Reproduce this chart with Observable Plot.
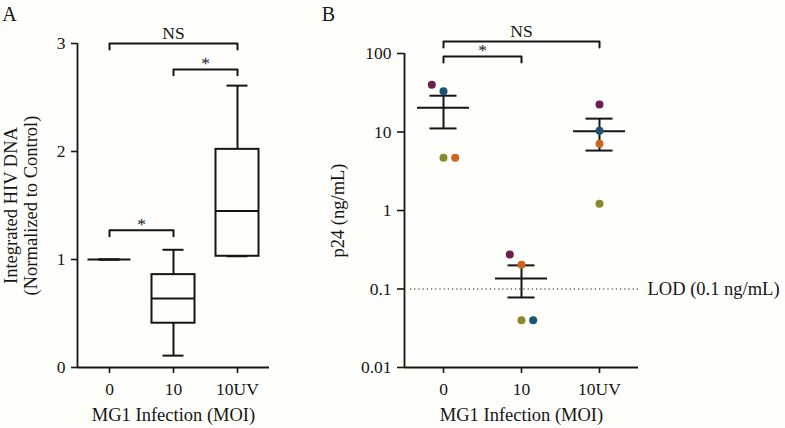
<!DOCTYPE html>
<html><head><meta charset="utf-8">
<script src="https://cdn.jsdelivr.net/npm/d3@7"></script>
<script src="https://cdn.jsdelivr.net/npm/@observablehq/plot@0.6"></script>
<style>
html,body{margin:0;padding:0;background:#fefefa;}
#fig{position:relative;width:785px;height:428px;overflow:hidden;background:#fefefa;}
#a{position:absolute;left:0;top:0;}
#b{position:absolute;left:310px;top:0;}
#fig svg{font-family:"Liberation Serif","DejaVu Serif",serif;background:transparent !important;overflow:visible;}
</style></head><body>
<div id="fig"><div id="a"></div><div id="b"></div></div>
<script>
// ---------- data ----------
const categories = ["0", "10", "10UV"];
const xLabel = "MG1 Infection (MOI)";

// Panel A: box plots of integrated HIV DNA (normalized to control)
const whiskerLow  = [1.00, 0.11, 1.03];
const boxQ1       = [1.00, 0.41, 1.03];
const boxMedian   = [1.00, 0.64, 1.45];
const boxQ3       = [1.00, 0.86, 2.02];
const whiskerHigh = [1.00, 1.09, 2.61];
const yTicksA = [0, 1, 2, 3];
const yLabelA = "Integrated HIV DNA\n(Normalized to Control)";
const bracketsA = [
  {from: "0",  to: "10UV", y: 3.00, label: "NS"},
  {from: "10", to: "10UV", y: 2.76, label: "*"},
  {from: "0",  to: "10",   y: 1.27, label: "*"}
];

// Panel B: p24 per donor, mean ± SEM
const donors = ["donor1", "donor2", "donor3", "donor4"];
const donorColors = ["#6b1f4e", "#1b5470", "#8b8a2b", "#cf6320"];
const p24Donor1 = [40, 0.275, 22.4];
const p24Donor2 = [33, 0.040, 10.4];
const p24Donor3 = [4.7, 0.040, 1.22];
const p24Donor4 = [4.7, 0.204, 7.1];
// beeswarm slot of each dot (-1 left, 0 centre, 1 right)
const slotDonor1 = [-1, -1, 0];
const slotDonor2 = [0, 1, 0];
const slotDonor3 = [0, 0, 0];
const slotDonor4 = [1, 0, 0];
const meanB = [20.4, 0.136, 10.2];
const semHighB = [29.0, 0.200, 14.8];
const semLowB = [11.1, 0.078, 5.8];
const yTicksB = [0.01, 0.1, 1, 10, 100];
const yLabelB = "p24 (ng/mL)";
const lodValue = 0.1;
const lodLabel = "LOD (0.1 ng/mL)";
const bracketsB = [
  {from: "0", to: "10UV", y: 142, label: "NS"},
  {from: "0", to: "10",   y: 91.6, label: "*"}
];

// ---------- build ----------
const FONT = '"Liberation Serif", "DejaVu Serif", serif';
const FS_TICK = 17.5;
const FS_TITLE = 18.5;
const INK = "#151515";
const style = `font-family: ${FONT}; font-size: ${FS_TICK}px; background: transparent; color: ${INK}; overflow: visible;`;

const boxes = categories.map((c, i) => ({i, c, lo: whiskerLow[i], q1: boxQ1[i], med: boxMedian[i], q3: boxQ3[i], hi: whiskerHigh[i]}));
function bracketPath(list, drop) {
  return list.flatMap((b, k) => {
    const i1 = categories.indexOf(b.from), i2 = categories.indexOf(b.to);
    return [{k, x: i1, y: drop(b.y)}, {k, x: i1, y: b.y}, {k, x: i2, y: b.y}, {k, x: i2, y: drop(b.y)}];
  });
}
const bracketText = list => list.map(b => ({x: (categories.indexOf(b.from) + categories.indexOf(b.to)) / 2, y: b.y, label: b.label}));
const tickText = {fontFamily: FONT, fontSize: FS_TICK, fill: INK};
const titleText = {fontFamily: FONT, fontSize: FS_TITLE, fill: INK};

const plotA = Plot.plot({
  width: 310, height: 428,
  marginLeft: 77, marginRight: 41, marginTop: 43, marginBottom: 61,
  style,
  x: {type: "linear", domain: [-0.5, 2.5]},
  y: {type: "linear", domain: [0, 3]},
  marks: [
    Plot.axisX({ticks: [0, 1, 2], tickFormat: i => categories[i], tickSize: 6, tickPadding: 9, strokeWidth: 1.6, label: null, ...tickText}),
    Plot.axisY({ticks: yTicksA, tickFormat: d => String(d), tickSize: 6, tickPadding: 6, strokeWidth: 1.6, label: null, ...tickText}),
    Plot.ruleY([0], {strokeWidth: 1.8, stroke: INK}),
    Plot.ruleX([-0.5], {strokeWidth: 1.8, stroke: INK}),
    // whiskers
    Plot.ruleX(boxes, {x: "i", y1: "hi", y2: "q3", strokeWidth: 2, stroke: INK}),
    Plot.ruleX(boxes, {x: "i", y1: "lo", y2: "q1", strokeWidth: 2, stroke: INK}),
    Plot.ruleY(boxes, {y: "hi", x1: d => d.i - 0.5, x2: d => d.i + 0.5, insetLeft: 21.5, insetRight: 21.5, strokeWidth: 2, stroke: INK}),
    Plot.ruleY(boxes, {y: "lo", x1: d => d.i - 0.5, x2: d => d.i + 0.5, insetLeft: 21.5, insetRight: 21.5, strokeWidth: 2, stroke: INK}),
    // boxes
    Plot.rect(boxes, {x1: d => d.i - 0.5, x2: d => d.i + 0.5, y1: "q1", y2: "q3", insetLeft: 10.5, insetRight: 10.5, fill: "none", stroke: INK, strokeWidth: 2}),
    Plot.ruleY(boxes, {y: "med", x1: d => d.i - 0.5, x2: d => d.i + 0.5, insetLeft: 10.5, insetRight: 10.5, strokeWidth: 2, stroke: INK}),
    // significance brackets
    Plot.line(bracketPath(bracketsA, y => y - 0.055), {x: "x", y: "y", z: "k", stroke: INK, strokeWidth: 2}),
    Plot.text(bracketText(bracketsA), {x: "x", y: "y", text: "label", lineAnchor: "bottom", ...tickText}),
    // axis titles
    Plot.text([yLabelA], {frameAnchor: "left", textAnchor: "middle", lineAnchor: "middle", rotate: -90, dx: -57, lineHeight: 1.08, ...titleText}),
    Plot.text([xLabel], {frameAnchor: "bottom", textAnchor: "middle", lineAnchor: "middle", dy: 48, ...titleText}),
    Plot.text(["A"], {frameAnchor: "top-left", textAnchor: "middle", lineAnchor: "middle", dx: -68, dy: -29, ...titleText, fontSize: 20})
  ]
});

const points = [p24Donor1, p24Donor2, p24Donor3, p24Donor4].flatMap((vals, k) => {
  const slots = [slotDonor1, slotDonor2, slotDonor3, slotDonor4][k];
  return categories.map((c, i) => ({donor: donors[k], i, slot: slots[i], v: vals[i]}));
});
const statsB = categories.map((c, i) => ({i, mean: meanB[i], hi: semHighB[i], lo: semLowB[i]}));

const plotB = Plot.plot({
  width: 475, height: 428,
  marginLeft: 94, marginRight: 147, marginTop: 53, marginBottom: 61,
  style,
  x: {type: "linear", domain: [-0.5, 2.5]},
  y: {type: "log", domain: [0.01, 100]},
  color: {domain: donors, range: donorColors},
  marks: [
    Plot.axisX({ticks: [0, 1, 2], tickFormat: i => categories[i], tickSize: 6, tickPadding: 9, strokeWidth: 1.6, label: null, ...tickText}),
    Plot.axisY({ticks: yTicksB, tickFormat: d => String(d), tickSize: 7, tickPadding: 6, strokeWidth: 1.6, label: null, ...tickText}),
    Plot.ruleY([0.01], {strokeWidth: 1.8, stroke: INK}),
    Plot.ruleX([-0.5], {strokeWidth: 1.8, stroke: INK}),
    // LOD
    Plot.ruleY([lodValue], {insetLeft: 6, stroke: INK, strokeWidth: 1.2, strokeDasharray: "1.2,3"}),
    Plot.text([lodLabel], {y: () => lodValue, frameAnchor: "right", textAnchor: "start", lineAnchor: "middle", dx: 9, ...titleText}),
    // mean ± SEM
    Plot.ruleX(statsB, {x: "i", y1: "lo", y2: "hi", strokeWidth: 2, stroke: INK}),
    Plot.ruleY(statsB, {y: "mean", x1: d => d.i - 0.5, x2: d => d.i + 0.5, insetLeft: 13, insetRight: 13, strokeWidth: 2, stroke: INK}),
    Plot.ruleY(statsB, {y: "hi", x1: d => d.i - 0.5, x2: d => d.i + 0.5, insetLeft: 25.5, insetRight: 25.5, strokeWidth: 2, stroke: INK}),
    Plot.ruleY(statsB, {y: "lo", x1: d => d.i - 0.5, x2: d => d.i + 0.5, insetLeft: 25.5, insetRight: 25.5, strokeWidth: 2, stroke: INK}),
    // donor dots
    Plot.dot(points, {x: d => d.i + d.slot * 0.15, y: "v", fill: "donor", r: 4}),
    // brackets
    Plot.line(bracketPath(bracketsB, y => y / Math.pow(10, 0.075)), {x: "x", y: "y", z: "k", stroke: INK, strokeWidth: 2}),
    Plot.text(bracketText(bracketsB), {x: "x", y: "y", text: "label", lineAnchor: "bottom", ...tickText}),
    // titles
    Plot.text([yLabelB], {frameAnchor: "left", textAnchor: "middle", lineAnchor: "middle", rotate: -90, dx: -66, ...titleText}),
    Plot.text([xLabel], {frameAnchor: "bottom", textAnchor: "middle", lineAnchor: "middle", dy: 48, ...titleText}),
    Plot.text(["B"], {frameAnchor: "top-left", textAnchor: "middle", lineAnchor: "middle", dx: -76, dy: -39, ...titleText, fontSize: 20})
  ]
});

// "NS" sits a little higher above its bracket than the asterisks
for (const svg of [plotA, plotB]) {
  svg.querySelectorAll("text").forEach(t => { if (t.textContent === "NS") t.setAttribute("transform", (t.getAttribute("transform") || "") + " translate(0,-5)"); });
}

document.getElementById("a").append(plotA);
document.getElementById("b").append(plotB);
</script>
</body></html>
